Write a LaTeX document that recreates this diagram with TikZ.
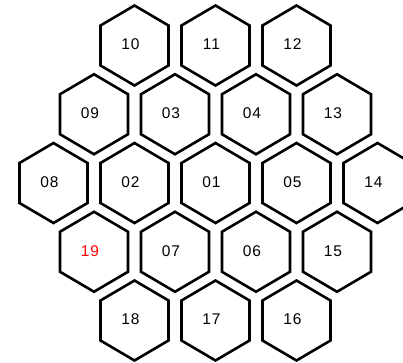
\documentclass[tikz,border=0pt]{standalone}
\usepackage{fontspec}
\setmainfont{Liberation Sans}
\begin{document}
\begin{tikzpicture}[x=1pt,y=-1pt,
  hexline/.style={line width=2.6pt, line join=miter},
  hexlabel/.style={font=\fontsize{15.5}{18}\selectfont\addfontfeature{LetterSpace=6}, inner sep=0pt}]
\useasboundingbox (0,0) rectangle (403,362);
\clip (0,0) rectangle (403,362);
\foreach \lab/\c/\r/\col in {10/-2/-2/black, 11/0/-2/black, 12/2/-2/black,
  09/-3/-1/black, 03/-1/-1/black, 04/1/-1/black, 13/3/-1/black,
  08/-4/0/black, 02/-2/0/black, 01/0/0/black, 05/2/0/black, 14/4/0/black,
  19/-3/1/red, 07/-1/1/black, 06/1/1/black, 15/3/1/black,
  18/-2/2/black, 17/0/2/black, 16/2/2/black} {
  \pgfmathsetmacro{\px}{215.5+\c*40.5}
  \pgfmathsetmacro{\py}{183+\r*68.75}
  \coordinate (c\lab) at (\px,\py);
  \draw[hexline, shift={(\px,\py)}] (0,-40) -- (34,-20) -- (34,20) -- (0,40) -- (-34,20) -- (-34,-20) -- cycle;
  \node[hexlabel, text=\col] (n\lab) at ([shift={(-4,-1)}]c\lab) {\lab};
}
\end{tikzpicture}
\end{document}
